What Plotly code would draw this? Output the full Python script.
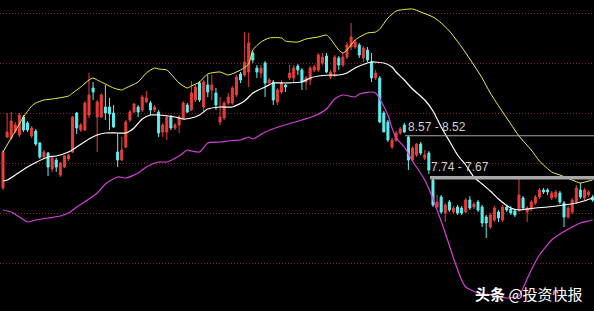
import plotly.graph_objects as go

# OHLC per trading day (prices)
open_ = [7.50,8.52,8.50,8.64,8.56,8.92,8.80,8.54,8.64,8.40,8.12,8.20,7.88,8.06,7.76,7.92,8.08,8.22,9.00,8.66,
         8.66,8.96,9.50,8.92,8.92,9.12,9.12,9.00,8.22,8.06,8.32,8.86,9.02,9.12,9.06,9.22,9.20,9.06,9.02,8.62,
         8.62,8.92,8.70,8.76,8.90,9.16,9.06,9.26,9.60,9.12,9.56,9.46,9.40,8.82,8.90,9.20,9.20,9.36,9.78,9.76,
         9.82,10.20,9.90,9.80,10.00,9.60,9.62,9.22,9.42,9.56,9.70,9.70,9.94,9.86,9.62,9.66,9.86,9.86,10.00,10.14,
         9.72,9.82,10.10,9.96,10.12,10.32,10.32,10.36,10.10,10.26,10.02,9.70,9.70,9.00,8.82,8.32,8.46,8.60,8.76,8.52,
         8.06,8.16,8.38,8.10,8.20,7.66,7.12,7.32,7.00,7.22,7.02,7.12,7.10,7.02,7.26,7.12,7.22,7.12,6.92,6.72,
         6.86,7.02,6.86,7.12,7.08,7.04,7.06,7.30,7.02,7.08,7.20,7.32,7.46,7.46,7.30,7.32,7.40,7.20,6.92,7.02,
         7.22,7.46,7.30,7.36,7.32]
high = [8.26,9.00,9.02,8.82,9.00,8.96,8.84,8.74,8.68,8.42,8.26,8.22,8.12,8.10,8.02,8.16,8.18,8.94,9.02,8.80,
        9.24,9.80,9.62,9.26,9.40,9.56,9.30,9.16,8.60,8.52,8.86,9.06,9.20,9.16,9.36,9.44,9.24,9.16,9.06,8.80,
        8.96,8.96,8.80,8.96,9.24,9.20,9.64,9.56,9.64,9.66,9.76,9.76,9.50,9.32,9.24,9.40,9.54,9.76,9.82,10.62,
        10.60,10.24,9.96,9.96,10.04,9.70,9.66,9.50,9.66,9.58,9.96,9.96,9.98,9.90,9.74,9.94,9.96,10.20,10.20,10.20,
        9.86,10.16,10.14,10.20,10.42,10.80,10.46,10.40,10.34,10.32,10.20,9.86,9.74,9.04,8.86,8.50,8.64,8.72,8.80,8.54,
        8.34,8.40,8.42,8.26,8.24,7.70,7.36,7.36,7.20,7.26,7.14,7.16,7.14,7.30,7.34,7.22,7.26,7.16,6.96,7.00,
        7.14,7.06,7.16,7.16,7.14,7.08,7.72,7.34,7.14,7.26,7.36,7.50,7.50,7.50,7.44,7.46,7.44,7.24,7.14,7.30,
        7.56,7.60,7.50,7.46,7.36]
low = [7.46,8.50,8.46,8.60,8.52,8.62,8.62,8.50,8.34,8.08,8.10,7.74,7.82,7.82,7.72,7.90,8.04,8.20,8.58,8.62,
       8.64,8.90,9.26,8.22,8.90,8.86,8.66,8.70,7.92,8.04,8.30,8.82,9.00,8.92,9.02,9.20,8.96,9.02,8.52,8.52,
       8.46,8.66,8.66,8.60,8.86,9.00,9.04,9.22,9.22,9.02,9.32,9.26,9.06,8.76,8.86,9.16,9.16,9.32,9.60,9.72,
       9.52,10.00,9.70,9.70,9.32,9.56,9.16,9.16,9.38,9.42,9.66,9.60,9.76,9.46,9.46,9.56,9.82,9.82,9.96,9.80,
       9.68,9.72,9.86,9.92,10.08,10.26,10.28,10.10,10.02,10.02,9.62,9.66,8.80,8.62,8.42,8.28,8.42,8.56,8.60,7.86,
       8.02,8.12,8.16,8.06,7.78,7.12,7.10,6.98,6.82,7.02,6.98,6.96,6.96,7.00,7.06,7.08,7.02,6.72,6.50,6.68,
       6.82,6.82,6.82,7.02,6.96,6.92,7.02,7.06,6.82,7.04,7.16,7.28,7.38,7.36,7.26,7.28,7.18,6.72,6.88,6.98,
       7.18,7.28,7.26,7.32,7.22]
close = [8.22,8.62,8.84,8.76,8.96,8.66,8.66,8.70,8.38,8.12,8.22,7.92,8.10,7.92,8.00,8.14,8.16,8.92,8.70,8.76,
         9.20,9.36,9.42,9.22,9.36,9.00,8.98,8.72,8.06,8.26,8.82,9.02,9.18,9.02,9.32,9.30,9.06,9.12,8.60,8.76,
         8.92,8.70,8.76,8.92,9.20,9.02,9.40,9.52,9.26,9.62,9.42,9.56,9.16,8.92,9.20,9.32,9.50,9.72,9.66,10.02,
         10.40,10.06,9.82,9.90,9.60,9.66,9.26,9.46,9.60,9.52,9.80,9.90,9.86,9.62,9.70,9.90,9.92,10.16,10.12,9.82,
         9.82,10.12,9.96,10.12,10.36,10.52,10.42,10.16,10.30,10.06,9.70,9.80,8.82,8.62,8.46,8.46,8.60,8.68,8.62,8.06,
         8.30,8.38,8.20,8.16,7.86,7.16,7.22,7.02,7.16,7.06,7.10,7.00,7.00,7.26,7.10,7.18,7.06,6.80,6.80,6.96,
         7.10,6.90,7.12,7.06,7.00,6.96,7.36,7.10,7.10,7.22,7.32,7.46,7.42,7.42,7.40,7.42,7.22,6.92,7.10,7.26,
         7.50,7.32,7.46,7.42,7.26]
days = list(range(len(close)))

# Bollinger band lines, sampled at candle indices
upper_idx = [0,2,4,5,7,8,10,12,16,17,19,21,22,23,24,27,29,30,33,35,37,38,40,41,43,45,46,48,50,53,55,58,60,61,63,65,
             68,69,72,74,77,79,80,82,83,84,86,89,91,92,94,96,97,100,102,105,107,109,112,114,117,119,122,124,126,129,
             131,134,136,139,141,143,144]
upper = [8.22,8.50,8.78,8.92,9.14,9.20,9.26,9.28,9.34,9.40,9.52,9.66,9.70,9.66,9.62,9.50,9.46,9.50,9.62,9.80,9.90,
         9.88,9.86,9.78,9.60,9.50,9.54,9.62,9.78,9.82,9.76,9.86,9.98,10.26,10.42,10.50,10.50,10.44,10.42,10.48,10.52,
         10.56,10.48,10.26,10.20,10.26,10.46,10.60,10.62,10.68,10.90,11.04,11.06,11.08,11.02,10.92,10.80,10.64,10.32,
         10.08,9.70,9.40,9.02,8.78,8.54,8.26,8.04,7.82,7.76,7.66,7.60,7.64,7.66]
mid_idx = [0,1,3,6,8,11,13,16,18,21,23,25,28,30,32,34,36,38,42,44,46,48,50,53,56,59,61,64,66,69,73,75,77,80,82,84,86,
           89,90,93,95,96,98,100,103,105,107,109,111,113,115,117,119,121,124,126,130,133,137,141,144]
mid = [7.64,7.66,7.76,7.92,8.01,8.12,8.14,8.22,8.32,8.48,8.56,8.60,8.60,8.60,8.70,8.88,8.96,8.96,8.92,8.88,8.90,8.96,
       9.08,9.12,9.12,9.24,9.40,9.52,9.60,9.60,9.62,9.70,9.74,9.76,9.76,9.80,9.90,10.00,10.02,10.00,9.92,9.82,9.66,
       9.48,9.26,9.04,8.72,8.44,8.16,7.96,7.72,7.58,7.44,7.28,7.10,7.06,7.10,7.12,7.16,7.22,7.30]
lower_idx = [0,2,4,6,8,11,14,16,18,21,23,25,28,30,33,35,38,40,43,45,46,48,50,53,56,58,60,61,64,68,73,76,79,81,83,86,87,
             90,91,92,94,95,96,98,100,103,105,108,110,112,113,116,120,123,126,127,129,131,134,136,139,141,143,144]
lower = [7.06,7.02,6.92,6.82,6.86,6.90,6.94,7.00,7.12,7.28,7.40,7.58,7.72,7.70,7.80,7.92,8.02,8.02,8.14,8.26,8.24,8.22,
         8.40,8.42,8.45,8.46,8.52,8.48,8.62,8.74,8.86,8.94,9.08,9.28,9.36,9.32,9.38,9.42,9.40,9.28,8.96,8.70,8.50,8.32,
         8.04,7.66,7.28,6.60,6.10,5.66,5.52,5.40,5.36,5.30,5.34,5.50,5.86,6.16,6.46,6.58,6.72,6.80,6.84,6.86]

# price zones marked on the chart
zone1 = (8.57, 8.52)
zone2 = (7.74, 7.67)
zone1_text = "8.57 - 8.52"
zone2_text = "7.74 - 7.67"

RED = "#ea3c3c"
CYAN = "#5cf0f0"

fig = go.Figure()
fig.add_trace(go.Candlestick(
    x=days, open=open_, high=high, low=low, close=close,
    increasing=dict(line=dict(color=RED, width=1), fillcolor=RED),
    decreasing=dict(line=dict(color=CYAN, width=1), fillcolor=CYAN),
    hoverinfo="skip", showlegend=False))
fig.add_trace(go.Scatter(x=upper_idx, y=upper, mode="lines", line=dict(color="#f2f24a", width=1, shape="spline", smoothing=0.6),
                         hoverinfo="skip", showlegend=False))
fig.add_trace(go.Scatter(x=mid_idx, y=mid, mode="lines", line=dict(color="#ffffff", width=1.2, shape="spline", smoothing=0.6),
                         hoverinfo="skip", showlegend=False))
fig.add_trace(go.Scatter(x=lower_idx, y=lower, mode="lines", line=dict(color="#d63fd6", width=1.2, shape="spline", smoothing=0.6),
                         hoverinfo="skip", showlegend=False))

W, H = 594, 311
x0_px = 3.0
step_px = 4.095
xr = [-x0_px / step_px, (W - x0_px) / step_px]

# zone 1: thin line, zone 2: thick band
fig.add_shape(type="line", xref="paper", yref="y", x0=405 / W, x1=1, y0=sum(zone1) / 2, y1=sum(zone1) / 2,
              line=dict(color="#a8a8a8", width=1))
fig.add_shape(type="rect", xref="paper", yref="y", x0=430 / W, x1=1, y0=zone2[1], y1=zone2[0],
              fillcolor="#a8a8a8", line=dict(width=0))
fig.add_annotation(text=zone1_text, xref="paper", yref="y", x=406 / W, y=zone1[0] + 0.16, xanchor="left", yanchor="middle",
                   showarrow=False, font=dict(family="Liberation Sans, Arial", size=12, color="#cfcfcf"))
fig.add_annotation(text=zone2_text, xref="paper", yref="y", x=429 / W, y=zone2[0] + 0.18, xanchor="left", yanchor="middle",
                   showarrow=False, font=dict(family="Liberation Sans, Arial", size=12, color="#cfcfcf"))
fig.add_annotation(text="<b>头条</b> @投资快报", xref="paper", yref="paper", x=529 / W, y=1 - 293.5 / H,
                   xanchor="center", yanchor="middle", showarrow=False,
                   font=dict(family="Noto Sans CJK SC", size=15, color="#ffffff"))

fig.update_layout(
    width=W, height=H, margin=dict(l=0, r=0, t=0, b=0),
    paper_bgcolor="#000000", plot_bgcolor="#000000",
    xaxis=dict(range=xr, showgrid=False, zeroline=False, showticklabels=False, ticks="",
               rangeslider=dict(visible=False), fixedrange=True),
    yaxis=dict(range=[11.26 - 0.02 * H, 11.26], showgrid=True, gridcolor="#8c2424", griddash="1px,2px", gridwidth=1,
               dtick=1, tick0=0, zeroline=False, showticklabels=False, ticks="", fixedrange=True),
    showlegend=False,
)

fig.write_html("out.html")
